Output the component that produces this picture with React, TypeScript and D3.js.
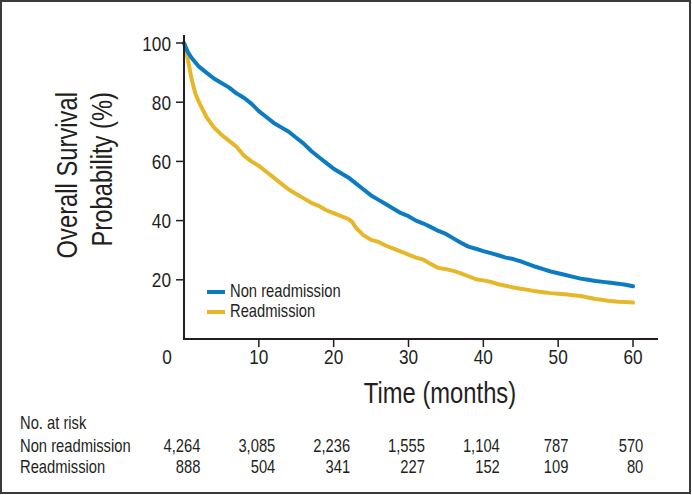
import React from "react";
import * as d3 from "d3";

const months = [0, 0.5, 1, 2, 3, 4, 5, 6, 7, 8, 9, 10, 11, 12, 13, 14, 15, 16, 17, 18, 19, 20, 21, 22, 23, 24, 25, 26, 27, 28, 29, 30, 31, 32, 33, 34, 35, 36, 37, 38, 39, 40, 41, 42, 43, 44, 45, 46, 47, 48, 49, 50, 51, 52, 53, 54, 55, 56, 57, 58, 59, 60];
const nonReadmission = [100, 97, 95, 92, 90, 88, 86.5, 85, 83, 81.5, 79.5, 77, 75, 73, 71.5, 70, 68, 66, 63.5, 61.5, 59.5, 57.5, 56, 54.5, 52.5, 50.5, 48.5, 47, 45.5, 44, 42.5, 41.5, 40, 39, 37.8, 36.5, 35.5, 34, 32.5, 31.2, 30.5, 29.7, 29, 28.3, 27.5, 27, 26.2, 25.3, 24.4, 23.6, 22.8, 22.2, 21.6, 21, 20.4, 20, 19.6, 19.3, 19, 18.7, 18.3, 17.8];

const monthsR = [0, 0.3, 0.7, 1, 1.5, 2, 2.5, 3, 4, 5, 6, 7, 8, 9, 10, 11, 12, 13, 14, 15, 16, 17, 18, 19, 20, 21, 22, 22.5, 23, 24, 25, 26, 27, 28, 29, 30, 31, 32, 33, 34, 35, 36, 37, 38, 39, 40, 41, 42, 43, 44, 45, 46, 47, 48, 49, 50, 51, 52, 53, 54, 55, 56, 57, 58, 59, 60];
const readmission = [100, 97, 92, 88, 83, 80, 77.5, 75, 71.5, 69, 67, 65, 62, 60, 58.5, 56.5, 54.5, 52.5, 50.5, 49, 47.5, 46, 45, 43.5, 42.5, 41.5, 40.5, 39.5, 37.5, 35, 33.5, 32.8, 31.5, 30.5, 29.5, 28.5, 27.5, 26.8, 25.3, 24, 23.6, 23, 22.2, 21.2, 20.2, 19.8, 19.3, 18.5, 18, 17.4, 17, 16.6, 16.1, 15.8, 15.5, 15.3, 15.1, 14.8, 14.5, 14, 13.5, 13.2, 12.8, 12.6, 12.5, 12.3];

const xTicks = [0, 10, 20, 30, 40, 50, 60];
const yTicks = [20, 40, 60, 80, 100];
const seriesNames = ["Non readmission", "Readmission"];
const riskNon = ["4,264", "3,085", "2,236", "1,555", "1,104", "787", "570"];
const riskRe = ["888", "504", "341", "227", "152", "109", "80"];

const BLUE = "#0b7cc1";
const YELLOW = "#e7b72a";
const FONT = "'Liberation Sans', Arimo, Arial, sans-serif";
const TXT = "#231f20";
const SX = 0.82;

function estWidth(s: string, size: number) {
  let w = 0;
  for (const c of s) w += c === "," ? 0.278 : 0.556;
  return w * size * SX;
}

type NTProps = {
  x: number;
  y: number;
  size: number;
  anchor?: "start" | "middle" | "end";
  rotate?: number;
  children: React.ReactNode;
};

function NText({ x, y, size, anchor = "start", rotate = 0, children }: NTProps) {
  return (
    <g transform={`translate(${x},${y}) rotate(${rotate}) scale(${SX},1)`}>
      <text x={0} y={0} textAnchor={anchor} fontSize={size} fill={TXT} fontFamily={FONT}>
        {children}
      </text>
    </g>
  );
}

export default function App() {
  const x = d3.scaleLinear().domain([0, 60]).range([184, 633]);
  const y = d3.scaleLinear().domain([0, 100]).range([339, 43]);
  const line = d3
    .line<[number, number]>()
    .x((d) => x(d[0]))
    .y((d) => y(d[1]))
    .curve(d3.curveLinear);
  const blueData = months.map((m, i) => [m, nonReadmission[i]] as [number, number]);
  const yellowData = monthsR.map((m, i) => [m, readmission[i]] as [number, number]);

  const tableSize = 18;
  return (
    <svg
      width={692}
      height={495}
      style={{ position: "absolute", left: 0, top: 0, background: "#fff" }}
    >
      <rect x={1} y={1} width={689} height={492} fill="#fff" stroke="#3a3a3a" strokeWidth={2} />
      {/* series */}
      <path d={line(yellowData) || ""} fill="none" stroke={YELLOW} strokeWidth={4} strokeLinejoin="round" strokeLinecap="round" />
      <path d={line(blueData) || ""} fill="none" stroke={BLUE} strokeWidth={4} strokeLinejoin="round" strokeLinecap="round" />
      {/* axes */}
      <line x1={184} x2={184} y1={35} y2={340} stroke="#231f20" strokeWidth={2} />
      <line x1={183} x2={658} y1={339} y2={339} stroke="#231f20" strokeWidth={2} />
      {yTicks.map((t) => (
        <g key={"y" + t}>
          <line x1={176} x2={184} y1={y(t)} y2={y(t)} stroke="#231f20" strokeWidth={1.5} />
          <NText x={171} y={y(t) + 7.5} anchor="end" size={21}>
            {t}
          </NText>
        </g>
      ))}
      {xTicks.map((t) => (
        <g key={"x" + t}>
          {t > 0 && <line x1={x(t)} x2={x(t)} y1={339} y2={347} stroke="#231f20" strokeWidth={1.5} />}
          <NText x={t === 0 ? x(t) - 17 : x(t)} y={364} anchor="middle" size={21}>
            {t}
          </NText>
        </g>
      ))}
      {/* axis titles */}
      <NText x={440} y={403} anchor="middle" size={29}>
        Time (months)
      </NText>
      <NText x={77} y={92} anchor="end" size={29} rotate={-90}>
        Overall Survival
      </NText>
      <NText x={112} y={92} anchor="end" size={29} rotate={-90}>
        Probability (%)
      </NText>
      {/* legend */}
      <line x1={207} x2={225} y1={292} y2={292} stroke={BLUE} strokeWidth={4} />
      <NText x={230} y={297} size={18}>
        {seriesNames[0]}
      </NText>
      <line x1={207} x2={225} y1={312} y2={312} stroke={YELLOW} strokeWidth={4} />
      <NText x={230} y={317} size={18}>
        {seriesNames[1]}
      </NText>
      {/* risk table */}
      <NText x={20} y={429} size={tableSize}>
        No. at risk
      </NText>
      <NText x={20} y={452} size={tableSize}>
        {seriesNames[0]}
      </NText>
      <NText x={20} y={473} size={tableSize}>
        {seriesNames[1]}
      </NText>
      {xTicks.map((t, i) => {
        const w = Math.max(estWidth(riskNon[i], tableSize), estWidth(riskRe[i], tableSize));
        const right = x(t) - 2 + w / 2;
        return (
          <g key={"r" + t}>
            <NText x={right} y={452} anchor="end" size={tableSize}>
              {riskNon[i]}
            </NText>
            <NText x={right} y={473} anchor="end" size={tableSize}>
              {riskRe[i]}
            </NText>
          </g>
        );
      })}
    </svg>
  );
}
